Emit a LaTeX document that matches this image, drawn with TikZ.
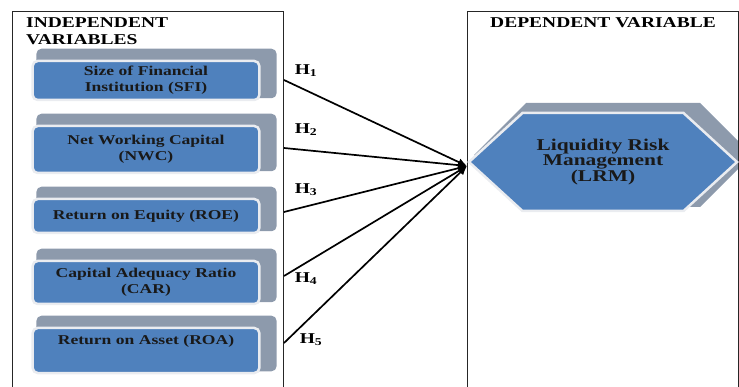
\documentclass[tikz,border=0pt]{standalone}
\usepackage{fontspec}
\setmainfont{Liberation Serif}[FakeStretch=1.3]
\usepackage{xcolor}
\usetikzlibrary{shapes.symbols,arrows.meta,positioning,backgrounds}

\definecolor{boxblue}{RGB}{79,129,189}
\definecolor{boxgrey}{RGB}{141,154,172}
\definecolor{boxhalo}{RGB}{234,236,240}

\begin{document}
\begin{tikzpicture}[x=1pt, y=-1pt,
    panel/.style={rectangle, draw=black!85, line width=0.9pt, minimum width=271pt, minimum height=390pt, anchor=north west},
    heading/.style={font=\fontsize{15}{17}\selectfont\bfseries, align=left, inner sep=0pt},
    factorbox/.style={rectangle, rounded corners=5pt, fill=boxblue, draw=boxhalo, line width=2.5pt, minimum width=226pt, text width=220pt, align=center, font=\fontsize{13.5}{16}\selectfont\bfseries, text=black!90},
    targetbox/.style={signal, signal to=west and east, signal pointer angle=85, fill=boxblue, draw=boxhalo, line width=2.5pt, minimum width=268pt, minimum height=98pt, align=center, font=\fontsize{16.5}{15}\selectfont\bfseries, text=black!90},
    backbox/.style={fill=boxgrey, rounded corners=5pt},
    hyp/.style={font=\fontsize{15}{16}\selectfont\bfseries, inner sep=0pt},
    arrow/.style={-{Latex[length=9pt,width=8pt]}, line width=1.7pt}
]
\useasboundingbox (0,0) rectangle (739,387);

% Panels
\node[panel] (indep) at (12,11) {};
\node[panel] (dep) at (467,11) {};
\node[heading, anchor=north west] (indeptitle) at (26,17) {INDEPENDENT\\VARIABLES};
\node[heading, anchor=north] (deptitle) at (603,17) {DEPENDENT VARIABLE};

% Independent variables
\node[factorbox, minimum height=39pt] (sfi) at (146,80.5) {Size of Financial\\Institution (SFI)};
\node[factorbox, minimum height=47pt, below=23.5pt of sfi] (nwc) {Net Working Capital\\(NWC)};
\node[factorbox, minimum height=34pt, below=23.5pt of nwc] (roe) {Return on Equity (ROE)};
\node[factorbox, minimum height=43pt, below=25.5pt of roe] (car) {Capital Adequacy Ratio\\(CAR)};
\node[factorbox, minimum height=45pt, below=21.5pt of car] (roa) {Return on Asset (ROA)\\\strut};

% Dependent variable
\node[targetbox] (lrm) at (603,162) {Liquidity Risk\\Management\\(LRM)};

% Shadows behind the boxes
\begin{scope}[on background layer]
  \foreach \v in {sfi,nwc,roe,car,roa}
    \fill[backbox] ([shift={(5,-11)}]\v.north west) rectangle ([shift={(16,-3)}]\v.south east);
  \fill[fill=boxgrey] ([shift={(-129,-7)}]lrm.center) -- ([shift={(-77,-59)}]lrm.center)
    -- ([shift={(97,-59)}]lrm.center) -- ([shift={(149,-7)}]lrm.center)
    -- ([shift={(97,45)}]lrm.center) -- ([shift={(-77,45)}]lrm.center) -- cycle;
\end{scope}

% Hypotheses
\coordinate (hub) at (467,166);
\coordinate (s1) at (284,80);
\coordinate (s2) at (284,148);
\coordinate (s3) at (284,212);
\coordinate (s4) at (284,276);
\coordinate (s5) at (284,343);
\foreach \s in {1,...,5}
  \draw[arrow] (s\s) -- (hub);

\node[hyp] (h1) at (306,71) {H\textsubscript{1}};
\node[hyp] (h2) at (306,130) {H\textsubscript{2}};
\node[hyp] (h3) at (306,190) {H\textsubscript{3}};
\node[hyp] (h4) at (306,279) {H\textsubscript{4}};
\node[hyp] (h5) at (311,340) {H\textsubscript{5}};

\end{tikzpicture}
\end{document}
